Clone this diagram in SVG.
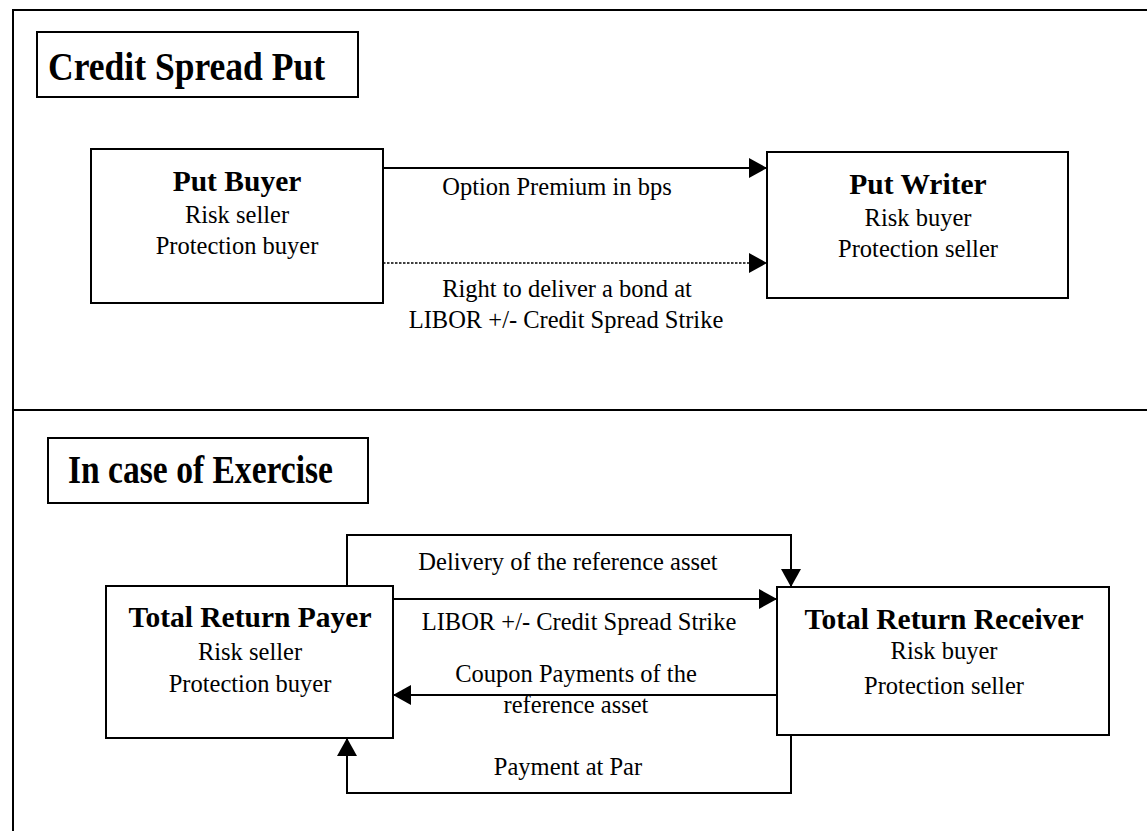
<svg xmlns="http://www.w3.org/2000/svg" width="1147" height="831" viewBox="0 0 1147 831">
<style>
text{font-family:"Liberation Serif","Times New Roman",serif;fill:#000;text-anchor:middle}
.h{font-size:39px;font-weight:bold;text-anchor:start}
.t{font-size:29.5px;font-weight:bold}
.b{font-size:24.5px}
.box{fill:#fff;stroke:#000;stroke-width:2}
.ln{fill:none;stroke:#000;stroke-width:2}
.dot{fill:none;stroke:#000;stroke-width:1.6;stroke-dasharray:2.5 1.5}
</style>
<defs>
<marker id="ah" markerUnits="userSpaceOnUse" markerWidth="18" markerHeight="20" refX="18" refY="10" orient="auto" viewBox="0 0 18 20">
<path d="M0,0 L18,10 L0,20 z" fill="#000"/>
</marker>
</defs>
<rect width="1147" height="831" fill="#fff"/>
<g id="frame">
<path class="ln" d="M13,831 V10 H1147"/>
<path class="ln" d="M13,410 H1147"/>
</g>
<g id="title1">
<rect class="box" x="37" y="32" width="321" height="65"/>
<text class="h" x="48" y="80" textLength="277" lengthAdjust="spacingAndGlyphs">Credit Spread Put</text>
</g>
<g id="title2">
<rect class="box" x="48" y="438" width="320" height="65"/>
<text class="h" x="68" y="483" textLength="265" lengthAdjust="spacingAndGlyphs">In case of Exercise</text>
</g>
<g id="put-buyer">
<rect class="box" x="91" y="149" width="292" height="154"/>
<text class="t" x="237" y="191">Put Buyer</text>
<text class="b" x="237" y="223">Risk seller</text>
<text class="b" x="237" y="254">Protection buyer</text>
</g>
<g id="put-writer">
<rect class="box" x="767" y="152" width="301" height="146"/>
<text class="t" x="918" y="194">Put Writer</text>
<text class="b" x="918" y="226">Risk buyer</text>
<text class="b" x="918" y="257">Protection seller</text>
</g>
<g id="tr-payer">
<rect class="box" x="106" y="586" width="287" height="152"/>
<text class="t" x="250" y="627">Total Return Payer</text>
<text class="b" x="250" y="660">Risk seller</text>
<text class="b" x="250" y="692">Protection buyer</text>
</g>
<g id="tr-receiver">
<rect class="box" x="777" y="587" width="332" height="148"/>
<text class="t" x="944" y="629">Total Return Receiver</text>
<text class="b" x="944" y="659">Risk buyer</text>
<text class="b" x="944" y="694">Protection seller</text>
</g>
<g id="connectors">
<line class="ln" x1="383" y1="168" x2="767" y2="168" marker-end="url(#ah)"/>
<line class="dot" x1="383" y1="263" x2="767" y2="263" marker-end="url(#ah)"/>
<path class="ln" d="M347,586 V535 H791 V587" marker-end="url(#ah)"/>
<line class="ln" x1="393" y1="599" x2="777" y2="599" marker-end="url(#ah)"/>
<line class="ln" x1="777" y1="695" x2="393" y2="695" marker-end="url(#ah)"/>
<path class="ln" d="M791,735 V793 H347 V738" marker-end="url(#ah)"/>
<text class="b" x="557" y="195">Option Premium in bps</text>
<text class="b" x="567" y="297">Right to deliver a bond at</text>
<text class="b" x="566" y="328">LIBOR +/- Credit Spread Strike</text>
<text class="b" x="568" y="570">Delivery of the reference asset</text>
<text class="b" x="579" y="630">LIBOR +/- Credit Spread Strike</text>
<text class="b" x="576" y="682">Coupon Payments of the</text>
<text class="b" x="576" y="713">reference asset</text>
<text class="b" x="568" y="775">Payment at Par</text>
</g>
</svg>
